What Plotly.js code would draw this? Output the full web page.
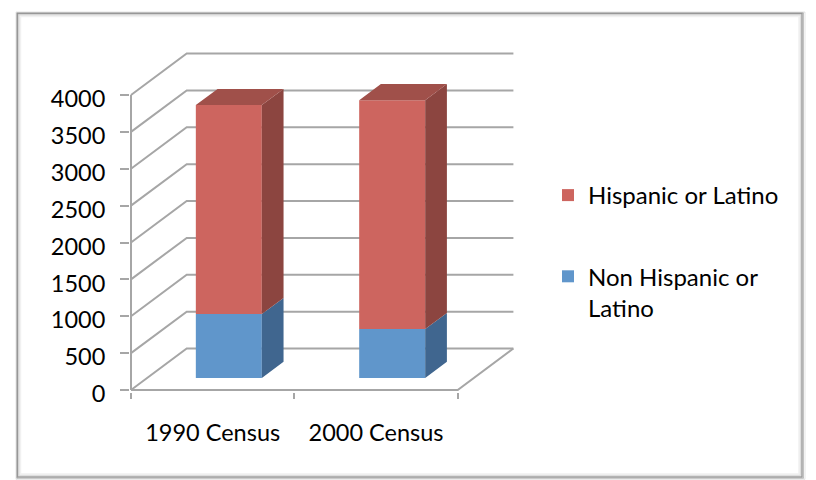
<!DOCTYPE html>
<html>
<head>
<meta charset="utf-8">
<script src="https://cdn.plot.ly/plotly-3.0.1.min.js"></script>
<style>
  html, body { margin: 0; padding: 0; background: #ffffff; }
  #chart { width: 816px; height: 480px; }
</style>
</head>
<body>
<div id="chart"></div>
<script>
// ---- data ----
const categories = ['1990 Census', '2000 Census'];
const nonHispanic = [866, 663];
const hispanic = [2834, 3103];
const yTickValues = [0, 500, 1000, 1500, 2000, 2500, 3000, 3500, 4000];
const seriesLabels = ['Non Hispanic or<br>Latino', 'Hispanic or Latino'];

// ---- colours ----
const blueFront = '#6096cb', blueSide = '#40668f';
const redFront = '#cd655f', redSide = '#8c4540', redTop = '#a0504a';
const gridGray = '#a6a6a6';
const FONT = 'Lato, "Open Sans", sans-serif';
const AXIS_FONT_SIZE = 23.5, LEGEND_FONT_SIZE = 24;

// ---- geometry of the oblique 3-D box ----
const W = 816, H = 480;
const PLOT_L = 130, PLOT_R = 522, PLOT_T = 40, PLOT_B = 392;
const ORIGIN_X = 131, ORIGIN_Y = 390;       // front-left floor corner (px)
const PX_PER_CAT = 163.35;                  // px per category slot
const PX_PER_VAL = 295 / 4000;              // px per value unit
const DEPTH_PX_X = 55.7, DEPTH_PX_Y = 41.5; // depth offset of the back wall (px)

const DX = DEPTH_PX_X / PX_PER_CAT;
const DY = DEPTH_PX_Y / PX_PER_VAL;
const X_LEFT = -0.5, X_RIGHT = categories.length - 0.5;
const xRange = [X_LEFT - (ORIGIN_X - PLOT_L) / PX_PER_CAT, X_LEFT + (PLOT_R - ORIGIN_X) / PX_PER_CAT];
const yRange = [-(PLOT_B - ORIGIN_Y) / PX_PER_VAL, (ORIGIN_Y - PLOT_T) / PX_PER_VAL];
const Y_MAX = yTickValues[yTickValues.length - 1];

const BAR_W = 66 / PX_PER_CAT;
const BAR_Z0 = 0.29, BAR_Z1 = 0.68;         // bar depth as fraction of the box depth

function proj(x, v, z) { return [x + z * DX, v + z * DY]; }

// ---- walls, floor and value axis (behind the bars) ----
const shapes = [];
const lineStyle = { color: gridGray, width: 2 };
yTickValues.forEach(v => {
  const a = proj(X_LEFT, v, 0), b = proj(X_LEFT, v, 1), c = proj(X_RIGHT, v, 1);
  shapes.push({ type: 'path', xref: 'x', yref: 'y', layer: 'below', line: lineStyle,
    path: `M${a[0]},${a[1]} L${b[0]},${b[1]} L${c[0]},${c[1]}` });
});
{
  const a = proj(X_LEFT, 0, 0), b = proj(X_RIGHT, 0, 0), c = proj(X_RIGHT, 0, 1);
  shapes.push({ type: 'path', xref: 'x', yref: 'y', layer: 'below', line: lineStyle,
    path: `M${a[0]},${a[1]} L${b[0]},${b[1]} L${c[0]},${c[1]}` });
  shapes.push({ type: 'path', xref: 'x', yref: 'y', layer: 'below', line: lineStyle,
    path: `M${X_LEFT},0 L${X_LEFT},${Y_MAX}` });
}

// ---- chart-area frame (paper coordinates) ----
const px2x = p => (p - PLOT_L) / (PLOT_R - PLOT_L);
const px2y = p => (PLOT_B - p) / (PLOT_B - PLOT_T);
function frameRect(l, t, r, b, color, width) {
  shapes.push({ type: 'rect', xref: 'paper', yref: 'paper', layer: 'above',
    x0: px2x(l), x1: px2x(r), y0: px2y(b), y1: px2y(t),
    line: { color: color, width: width }, fillcolor: 'rgba(0,0,0,0)' });
}
frameRect(20.5, 16.5, 799, 474, '#f1f1f1', 1.5);
frameRect(19, 15, 800.5, 475.5, '#dedede', 1.5);
frameRect(17.5, 13.5, 802, 477, '#9c9c9c', 1.5);
frameRect(16.8, 12.8, 803.5, 478.3, 'rgba(120,120,120,0.45)', 1);
frameRect(16, 12, 805, 479.3, 'rgba(150,150,150,0.25)', 1);

// ---- stacked segments ----
const series = [
  { name: seriesLabels[0], values: nonHispanic, front: blueFront, side: blueSide, top: blueSide, group: 'n', rank: 2 },
  { name: seriesLabels[1], values: hispanic,    front: redFront,  side: redSide,  top: redTop,   group: 'h', rank: 1 }
];
const lower = categories.map(() => 0);
const traces = [];
const faceTraces = [];
series.forEach((s, si) => {
  const isTop = si === series.length - 1;
  const base = [], xs = [];
  const sideX = [], sideY = [], topX = [], topY = [];
  categories.forEach((c, i) => {
    const lo = lower[i], hi = lower[i] + s.values[i];
    const front = proj(i, lo, BAR_Z0);
    xs.push(front[0]);
    base.push(front[1]);
    const xl = i - BAR_W / 2, xr = i + BAR_W / 2;
    [proj(xr, lo, BAR_Z0), proj(xr, lo, BAR_Z1), proj(xr, hi, BAR_Z1), proj(xr, hi, BAR_Z0), proj(xr, lo, BAR_Z0)]
      .forEach(p => { sideX.push(p[0]); sideY.push(p[1]); });
    sideX.push(null); sideY.push(null);
    if (isTop) {
      [proj(xl, hi, BAR_Z0), proj(xr, hi, BAR_Z0), proj(xr, hi, BAR_Z1), proj(xl, hi, BAR_Z1), proj(xl, hi, BAR_Z0)]
        .forEach(p => { topX.push(p[0]); topY.push(p[1]); });
      topX.push(null); topY.push(null);
    }
    lower[i] = hi;
  });
  traces.push({
    type: 'bar', name: s.name, legendgroup: s.group, legendrank: s.rank,
    x: xs, y: s.values.slice(), base: base, width: BAR_W,
    marker: { color: s.front, line: { width: 0 } },
    hoverinfo: 'skip'
  });
  faceTraces.push({
    type: 'scatter', mode: 'lines', x: sideX, y: sideY, fill: 'toself',
    fillcolor: s.side, line: { width: 0, color: s.side }, showlegend: false, hoverinfo: 'skip'
  });
  if (isTop) {
    faceTraces.push({
      type: 'scatter', mode: 'lines', x: topX, y: topY, fill: 'toself',
      fillcolor: s.top, line: { width: 0, color: s.top }, showlegend: false, hoverinfo: 'skip'
    });
  }
});

const layout = {
  width: W, height: H,
  margin: { l: PLOT_L, r: W - PLOT_R, t: PLOT_T, b: H - PLOT_B, pad: 0 },
  paper_bgcolor: '#ffffff', plot_bgcolor: 'rgba(0,0,0,0)',
  barmode: 'overlay',
  showlegend: true,
  font: { family: FONT, size: AXIS_FONT_SIZE, color: '#000000' },
  xaxis: {
    range: xRange, fixedrange: true,
    tickmode: 'array', tickvals: categories.map((c, i) => i), ticktext: categories,
    ticks: '', showgrid: false, zeroline: false, showline: false,
    ticklabelstandoff: 24,
    tickfont: { family: FONT, size: AXIS_FONT_SIZE, color: '#000000' },
    minor: { tick0: X_LEFT, dtick: 1, ticks: 'outside', ticklen: 6, tickwidth: 2, tickcolor: gridGray, showgrid: false }
  },
  yaxis: {
    range: yRange, fixedrange: true,
    tickmode: 'array', tickvals: yTickValues, ticktext: yTickValues.map(String),
    ticks: 'outside', ticklen: 9, tickwidth: 2, tickcolor: gridGray,
    showgrid: false, zeroline: false, showline: false,
    ticklabelstandoff: 10, ticklabelshift: 4,
    tickfont: { family: FONT, size: AXIS_FONT_SIZE, color: '#000000' }
  },
  legend: {
    x: px2x(548), xanchor: 'left', y: px2y(173), yanchor: 'top',
    traceorder: 'grouped', valign: 'top', tracegroupgap: 47,
    bgcolor: 'rgba(0,0,0,0)', borderwidth: 0,
    font: { family: FONT, size: LEGEND_FONT_SIZE, color: '#000000' }
  },
  shapes: shapes
};

Plotly.newPlot('chart', traces.concat(faceTraces), layout, { displayModeBar: false, staticPlot: true });
</script>
</body>
</html>
